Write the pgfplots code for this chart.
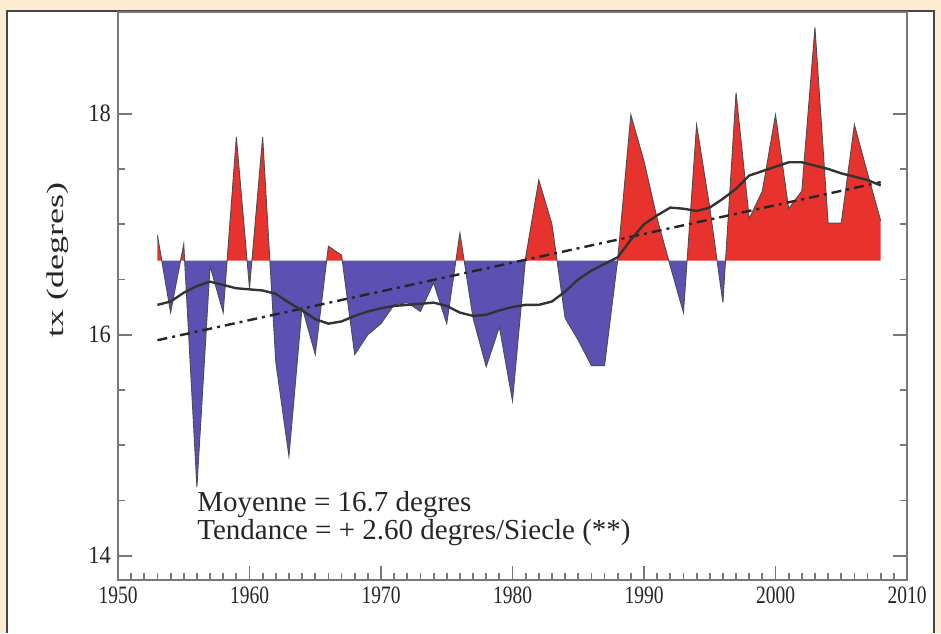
\documentclass[border=0pt]{standalone}
\usepackage{fontspec}
\setmainfont{Liberation Serif}
\newfontfamily\xtickfont{Liberation Serif}[FakeStretch=0.78]
\newfontfamily\ytickfont{Liberation Serif}[FakeStretch=0.9]
\newfontfamily\labfont{Liberation Serif}[FakeStretch=1.5]
\usepackage{pgfplots}
\pgfplotsset{compat=1.18}
\usepgfplotslibrary{fillbetween}
\usepackage{pgfplotstable}

\definecolor{bgbeige}{RGB}{253,236,210}
\definecolor{panelgray}{RGB}{70,70,70}
\definecolor{axgray}{RGB}{120,120,120}
\definecolor{warmred}{RGB}{232,50,45}
\definecolor{coolblue}{RGB}{92,80,178}

\pgfdeclarelayer{background}
\pgfplotsset{
  layers/withbg/.define layer set={background,axis background,axis grid,axis ticks,axis lines,axis tick labels,pre main,main,axis descriptions,axis foreground}{},
  set layers=withbg,
}

% annual tx (degrees)
\pgfplotstableread{
year tx
1953 16.90
1954 16.20
1955 16.82
1956 14.62
1957 16.62
1958 16.20
1959 17.79
1960 16.42
1961 17.79
1962 15.75
1963 14.90
1964 16.25
1965 15.82
1966 16.80
1967 16.72
1968 15.82
1969 16.00
1970 16.10
1971 16.27
1972 16.29
1973 16.21
1974 16.47
1975 16.10
1976 16.92
1977 16.15
1978 15.71
1979 16.07
1980 15.40
1981 16.70
1982 17.40
1983 17.00
1984 16.15
1985 15.95
1986 15.72
1987 15.72
1988 16.68
1989 17.99
1990 17.57
1991 17.05
1992 16.62
1993 16.20
1994 17.90
1995 17.15
1996 16.29
1997 18.19
1998 17.05
1999 17.30
2000 17.99
2001 17.14
2002 17.30
2003 18.78
2004 17.01
2005 17.01
2006 17.90
2007 17.46
2008 17.03
}\annual

% smoothed curve
\pgfplotstableread{
year tx
1953 16.27
1954 16.30
1955 16.38
1956 16.44
1957 16.48
1958 16.45
1959 16.42
1960 16.41
1961 16.40
1962 16.37
1963 16.29
1964 16.22
1965 16.14
1966 16.10
1967 16.12
1968 16.17
1969 16.21
1970 16.24
1971 16.26
1972 16.27
1973 16.28
1974 16.29
1975 16.26
1976 16.20
1977 16.17
1978 16.18
1979 16.22
1980 16.25
1981 16.27
1982 16.27
1983 16.30
1984 16.39
1985 16.50
1986 16.58
1987 16.64
1988 16.70
1989 16.86
1990 17.00
1991 17.08
1992 17.15
1993 17.14
1994 17.12
1995 17.15
1996 17.23
1997 17.32
1998 17.44
1999 17.48
2000 17.52
2001 17.56
2002 17.56
2003 17.53
2004 17.50
2005 17.46
2006 17.43
2007 17.40
2008 17.35
}\smooth

\begin{document}
\begin{tikzpicture}
\begin{pgfonlayer}{background}
\fill[bgbeige] (0pt,0pt) rectangle (470.5pt,316.5pt);
\fill[white] (3.5pt,0pt) rectangle (467pt,311pt);
\draw[panelgray, line width=0.8pt] (3.5pt,0pt) -- (3.5pt,311pt) -- (467pt,311pt) -- (467pt,0pt);
\end{pgfonlayer}
\begin{axis}[
  at={(59pt,26.5pt)}, anchor=south west,
  scale only axis, width=394.5pt, height=284pt,
  xmin=1950, xmax=2010, ymin=13.78, ymax=18.92,
  xtick={1950,1960,...,2010}, minor x tick num=9,
  ytick={14,16,18}, minor y tick num=3,
  tick align=inside, xtick pos=left, ytick pos=both, yticklabel pos=left,
  major tick length=7pt, minor tick length=3.5pt,
  axis line style={draw=axgray, line width=1pt},
  every tick/.style={axgray, line width=0.9pt},
  /pgf/number format/assume math mode=true,
  /pgf/number format/1000 sep={},
  xticklabel style={font=\xtickfont\fontsize{12.5}{14}\selectfont, text=black!85},
  yticklabel style={font=\ytickfont\fontsize{12.5}{14}\selectfont, text=black!85},
  ylabel={tx (degres)},
  ylabel style={font=\labfont\fontsize{12}{14}\selectfont, text=black!85,
    at={(rel axis cs:0,0.563)}, anchor=center, yshift=30pt},
]
\addplot[draw=none, name path=data] table[x=year, y=tx] {\annual};
\addplot[draw=none, name path=mean] coordinates {(1953,16.67) (2008,16.67)};

\addplot fill between[of=data and mean, split,
  every even segment/.style={warmred},
  every odd segment/.style={coolblue}];

\addplot[black!70, line width=0.45pt] table[x=year, y=tx] {\annual};
\addplot[black!85, line width=1.2pt, dash pattern=on 5pt off 2.5pt on 1.5pt off 2.5pt]
  coordinates {(1953,15.95) (2008,17.38)};
\addplot[black!80, line width=1.2pt] table[x=year, y=tx] {\smooth};

\node[anchor=base west, font=\fontsize{14.5}{12.5}\selectfont, text=black!85,
  inner sep=0pt, align=left]
  at (axis cs:1956.0,14.145) {Moyenne = 16.7 degres\\[-0.3pt]Tendance = + 2.60 degres/Siecle (**)};
\end{axis}
\end{tikzpicture}
\end{document}
